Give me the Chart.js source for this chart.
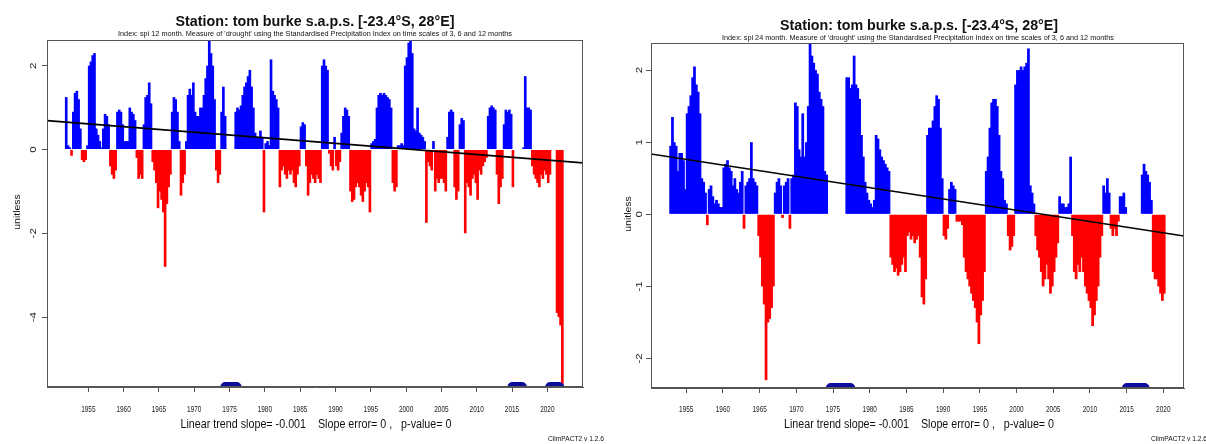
<!DOCTYPE html>
<html><head><meta charset="utf-8">
<script src="https://cdn.jsdelivr.net/npm/chart.js@4.4.1/dist/chart.umd.min.js"></script>
<style>
html,body{margin:0;padding:0;background:#fff;width:1206px;height:444px;overflow:hidden}
canvas{position:absolute;top:0}
#c1{left:0}
#c2{left:603px}
</style></head><body>
<canvas id="c1" width="610" height="444"></canvas>
<canvas id="c2" width="603" height="444"></canvas>
<script>
// ---------- DATA ----------
const tickYears = [1955,1960,1965,1970,1975,1980,1985,1990,1995,2000,2005,2010,2015,2020];
const spi12Ticks = [-4,-2,0,2];
const spi24Ticks = [-2,-1,0,1,2];

// SPI-12, quarterly values starting at 1951.75
const spi12Start = 1951.75;
const spi12 = [
  1.25,
  0.1, 0.05, -0.15, 0.9,      // 1952
  1.35, 1.4, 1.2, 0.5,        // 1953
  -0.25, -0.3, -0.25, 0.1,    // 1954
  2.0, 2.1, 2.25, 2.3,        // 1955
  0.5, 0.35, 0.2, 0.05,       // 1956
  0.5, 0.85, 0.8, 0.6,        // 1957
  -0.4, -0.6, -0.7, -0.5,     // 1958
  0.9, 0.95, 0.9, 0.6,        // 1959
  0.2, 0.2, 0.2, 1.0,         // 1960
  0.9, 0.85, 0.7, -0.2,       // 1961
  -0.7, -0.6, -0.7, 0.6,      // 1962
  1.25, 1.3, 1.6, 1.1,        // 1963
  -0.3, -0.5, -0.8, -1.4,     // 1964
  -1.0, -1.2, -1.5, -2.8,     // 1965
  -1.3, -0.9, -0.6, 0.9,      // 1966
  1.25, 1.2, 0.9, 0.2,        // 1967
  -1.1, -0.8, -0.6, 0.2,      // 1968
  1.3, 1.45, 1.3, 1.6,        // 1969
  0.9, 0.8, 0.8, 1.0,         // 1970
  1.0, 1.3, 1.7, 2.0,         // 1971
  2.6, 2.3, 2.0, 1.2,         // 1972
  -0.5, -0.8, -0.6, 0.9,      // 1973
  1.5, 0.8, null, null,       // 1974
  null, null, null, 0.9,      // 1975
  1.0, 0.95, 1.05, 1.3,       // 1976
  1.5, 1.6, 1.75, 1.9,        // 1977
  1.5, 1.0, 0.4, 0.3,         // 1978
  0.3, 0.45, 0.3, -1.5,       // 1979
  0.15, 0.2, 0.1, 2.15,       // 1980
  1.4, 1.3, 1.2, 1.0,         // 1981
  -0.9, -0.5, -0.4, -0.6,     // 1982
  -0.7, -0.5, -0.6, -0.5,     // 1983
  -0.8, -0.9, -0.6, -0.4,     // 1984
  0.55, 0.65, 0.6, -0.4,      // 1985
  -1.1, -0.8, -0.6, -0.7,     // 1986
  -0.8, -0.6, -0.7, -0.8,     // 1987
  2.0, 2.15, 2.0, 1.9,        // 1988
  -0.1, -0.4, -0.5, 0.3,      // 1989
  -0.4, -0.5, -0.3, 0.4,      // 1990
  0.8, 1.0, 0.95, 0.8,        // 1991
  -1.0, -1.25, -1.2, -0.9,    // 1992
  -0.8, -0.9, -1.1, -1.25,    // 1993
  -1.0, -0.8, -0.9, -1.5,     // 1994
  0.15, 0.2, 0.25, 1.0,       // 1995
  1.3, 1.35, 1.3, 1.35,       // 1996
  1.3, 1.25, 1.2, 1.0,        // 1997
  -0.8, -1.0, -0.9, 0.1,      // 1998
  0.1, 0.15, 0.1, 2.0,        // 1999
  2.2, 2.55, 2.6, 2.3,        // 2000
  0.5, 0.45, 1.0, 0.4,        // 2001
  0.35, 0.3, 0.2, -1.75,      // 2002
  -0.3, -0.4, -0.5, 0.2,      // 2003
  -1.0, -0.7, -0.8, -0.7,     // 2004
  -0.7, -0.8, -1.0, 0.3,      // 2005
  0.9, 0.95, 0.9, -0.9,       // 2006
  -1.2, -1.0, 0.6, 0.75,      // 2007
  0.7, -2.0, -0.8, -0.9,      // 2008
  -1.1, -0.7, -0.6, -0.8,     // 2009
  -1.2, -0.5, -0.6, -0.4,     // 2010
  -0.3, -0.2, 0.8, 1.0,       // 2011
  1.05, 1.0, 0.95, -0.6,      // 2012
  -1.3, -0.9, -0.7, 0.6,      // 2013
  0.95, 0.9, 0.95, 0.85,      // 2014
  -0.9, null, null, null,     // 2015
  null, null, 0.05, 1.75,     // 2016
  1.0, 1.0, 0.95, -0.4,       // 2017
  -0.6, -0.7, -0.8, -0.9,     // 2018
  -0.6, -0.7, -0.5, -0.6,     // 2019
  -0.8, -0.6, null, null,     // 2020
  null, -3.9, -4.0, -4.2,     // 2021
  -5.6                        // 2022
];

// SPI-24, quarterly values starting at 1952.75
const spi24Start = 1952.75;
const spi24 = [
  0.95,
  1.35, 1.0, 0.95, 0.6,       // 1953
  0.85, 0.85, 0.75, 0.35,     // 1954
  1.4, 1.5, 1.65, 1.9,        // 1955
  2.05, 1.8, 1.7, 1.4,        // 1956
  0.5, 0.45, 0.3, -0.15,      // 1957
  0.35, 0.4, 0.25, 0.15,      // 1958
  0.2, 0.15, 0.1, 0.1,        // 1959
  0.65, 0.7, 0.75, 0.65,      // 1960
  0.6, 0.4, 0.5, 0.35,        // 1961
  0.3, 0.45, 0.6, -0.2,       // 1962
  0.4, 0.45, 0.5, 1.0,        // 1963
  0.5, 0.45, 0.4, -0.3,       // 1964
  -0.6, -1.0, -1.25, -2.3,    // 1965
  -1.5, -1.45, -1.3, -1.0,    // 1966
  0.3, 0.45, 0.5, 0.4,        // 1967
  -0.05, 0.4, 0.45, 0.5,      // 1968
  -0.2, 0.5, 0.55, 1.55,      // 1969
  1.5, 0.9, 0.8, 1.4,         // 1970
  0.8, 1.0, 1.5, 2.4,         // 1971
  2.2, 2.1, 2.0, 1.95,        // 1972
  1.7, 1.6, 1.5, 0.6,         // 1973
  0.55, null, null, null,     // 1974
  null, null, null, null,     // 1975
  null, null, null, 1.9,      // 1976
  1.9, 1.75, 1.8, 2.2,        // 1977
  1.8, 1.75, 1.6, 1.1,        // 1978
  0.8, 0.45, 0.3, 0.2,        // 1979
  0.15, 0.1, 0.2, 1.1,        // 1980
  1.05, 0.9, 0.8, 0.75,       // 1981
  0.7, 0.65, 0.6, -0.6,       // 1982
  -0.7, -0.8, -0.75, -0.85,   // 1983
  -0.8, -0.7, -0.6, -0.8,     // 1984
  -0.3, -0.25, -0.35, -0.3,   // 1985
  -0.4, -0.35, -0.3, -0.6,    // 1986
  -1.15, -1.25, -0.9, 1.1,    // 1987
  1.2, 1.2, 1.3, 1.5,         // 1988
  1.65, 1.6, 1.2, 0.5,        // 1989
  -0.3, -0.35, -0.2, 0.35,    // 1990
  0.45, 0.4, 0.35, -0.1,      // 1991
  -0.1, -0.1, -0.15, -0.6,    // 1992
  -0.8, -0.9, -1.0, -1.1,     // 1993
  -1.2, -1.3, -1.5, -1.8,     // 1994
  -1.4, -1.2, -0.8, 0.6,      // 1995
  0.8, 1.2, 1.55, 1.6,        // 1996
  1.6, 1.5, 1.1, 0.6,         // 1997
  0.5, 0.2, 0.15, -0.3,       // 1998
  -0.5, -0.45, -0.3, 1.8,     // 1999
  2.0, 2.0, 2.05, 2.0,        // 2000
  2.05, 2.1, 2.3, 0.4,        // 2001
  0.3, 0.15, -0.3, -0.5,      // 2002
  -0.6, -0.8, -1.0, -0.9,     // 2003
  -0.7, -0.9, -1.1, -1.0,     // 2004
  -0.8, -0.6, -0.4, 0.25,     // 2005
  0.15, 0.15, 0.1, 0.1,       // 2006
  0.15, 0.8, -0.3, -0.8,      // 2007
  -0.9, -0.7, -0.8, -0.6,     // 2008
  -0.8, -1.0, -1.1, -1.2,     // 2009
  -1.3, -1.55, -1.4, -1.2,    // 2010
  -1.0, -0.6, -0.3, 0.4,      // 2011
  0.3, 0.5, 0.3, -0.2,        // 2012
  -0.3, -0.2, -0.3, -0.1,     // 2013
  0.25, 0.25, 0.3, 0.1,       // 2014
  null, null, null, null,     // 2015
  null, null, null, null,     // 2016
  0.55, 0.7, 0.6, 0.55,       // 2017
  0.45, 0.2, -0.8, -0.9,      // 2018
  -0.9, -1.0, -1.1, -1.2,     // 2019
  -1.1                        // 2020
];

const spi12TrendYears = [1949.15, 2025.05];
const spi12TrendValues = [0.69, -0.32];
const spi24TrendYears = [1950.2, 2022.82];
const spi24TrendValues = [0.836, -0.30];

const spi12GapStart = [1974.4, 2015.05, 2020.4];
const spi12GapEnd   = [1976.0, 2016.4, 2021.7];
const spi24GapStart = [1974.7, 2015.05];
const spi24GapEnd   = [1977.35, 2017.45];

const titleText = 'Station: tom burke s.a.p.s. [-23.4°S, 28°E]';
const sub12Text = "Index: spi 12 month. Measure of 'drought' using the Standardised Precipitation Index on time scales of 3, 6 and 12 months";
const sub24Text = "Index: spi 24 month. Measure of 'drought' using the Standardised Precipitation Index on time scales of 3, 6 and 12 months";
const footText = 'Linear trend slope= -0.001    Slope error= 0 ,   p-value= 0';
const versionText = 'ClimPACT2 v 1.2.6';
const yTitle = 'unitless';

// ---------- DRAWING ----------
const FONT = '"Liberation Sans", Arial, sans-serif';
function drawText(ctx, t) {
  ctx.save();
  ctx.translate(t.x, t.y);
  if (t.rot) ctx.rotate(t.rot);
  ctx.font = (t.bold ? 'bold ' : '') + t.size + 'px ' + FONT;
  ctx.textAlign = t.align || 'center';
  ctx.textBaseline = 'alphabetic';
  let sx = t.sx || 1, sy = t.sy || 1;
  if (t.w) sx = t.w / ctx.measureText(t.text).width;
  ctx.scale(sx, sy);
  ctx.fillStyle = t.color || '#111';
  ctx.fillText(t.text, 0, 0);
  ctx.restore();
}

const rPlugin = {
  id: 'rstyle',
  afterDraw(chart, args, o) {
    const ctx = chart.ctx, ca = chart.chartArea;
    ctx.save();
    ctx.strokeStyle = o.boxColor; ctx.lineWidth = 1;
    ctx.strokeRect(Math.round(ca.left) + 0.5, Math.round(ca.top) + 0.5,
                   Math.round(ca.right - ca.left) - 1, Math.round(ca.bottom - ca.top) - 1);
    const xs = chart.scales.x, ys = chart.scales.y;
    xs.ticks.forEach(t => drawText(ctx, {text: String(t.value), x: xs.getPixelForValue(t.value),
      y: o.xLabelY, size: o.xLabelSize, sx: o.xLabelSx, color: '#222'}));
    ys.ticks.forEach(t => drawText(ctx, {text: String(t.value), x: o.yLabelX,
      y: ys.getPixelForValue(t.value), size: o.yLabelSize, rot: -Math.PI / 2, sy: o.yLabelSy, color: '#222'}));
    o.texts.forEach(t => drawText(ctx, t));
    ctx.restore();
  }
};

function makeChart(id, cfg) {
  const bars = cfg.values.map((v, i) => ({x: cfg.start + i * 0.25 + 0.125, y: v}));
  const trend = cfg.trendYears.map((yr, i) => ({x: yr, y: cfg.trendValues[i]}));
  const gaps = [];
  cfg.gapStart.forEach((g, i) => {
    gaps.push({x: g, y: cfg.yMin}, {x: cfg.gapEnd[i], y: cfg.yMin}, {x: cfg.gapEnd[i], y: null});
  });
  return new Chart(document.getElementById(id), {
    data: {
      datasets: [
        {type: 'line', data: trend, borderColor: '#000', borderWidth: 1.6, pointRadius: 0, order: 0},
        {type: 'line', data: gaps, borderColor: '#0c0c9c', borderWidth: 10, borderCapStyle: 'round',
         pointRadius: 0, spanGaps: false, clip: 0, order: 1},
        {type: 'bar', data: bars, order: 2, borderWidth: 0, barPercentage: 1.5, categoryPercentage: 1.0,
         backgroundColor: c => (c.parsed && c.parsed.y >= 0) ? '#0000ff' : '#ff0000'}
      ]
    },
    options: {
      responsive: false, animation: false, devicePixelRatio: 1, events: [],
      layout: {padding: cfg.padding},
      plugins: {legend: {display: false}, tooltip: {enabled: false}, title: {display: false},
        rstyle: {boxColor: '#555', xLabelY: 411.5, xLabelSize: 9.5, xLabelSx: 0.68,
                 yLabelX: cfg.yLabelX, yLabelSize: 11.5, yLabelSy: 0.8, texts: cfg.texts}},
      scales: {
        x: {type: 'linear', min: cfg.xMin, max: cfg.xMax, offset: false,
            afterBuildTicks: s => { s.ticks = tickYears.map(v => ({value: v})); },
            afterFit: s => { s.height = cfg.xHeight; },
            ticks: {display: false},
            grid: {display: true, drawOnChartArea: false, drawTicks: true, tickLength: 5, tickColor: '#555', offset: false},
            border: {display: true, color: '#555', width: 1}},
        y: {type: 'linear', min: cfg.yMin, max: cfg.yMax,
            afterBuildTicks: s => { s.ticks = cfg.yTicks.map(v => ({value: v})); },
            afterFit: s => { s.width = cfg.yWidth; },
            ticks: {display: false},
            grid: {display: true, drawOnChartArea: false, drawTicks: true, tickLength: 5, tickColor: '#555'},
            border: {display: true, color: '#555', width: 1}}
      }
    },
    plugins: [rPlugin]
  });
}

// left panel: plot box 47..583 x 40..387
makeChart('c1', {
  values: spi12, start: spi12Start, trendYears: spi12TrendYears, trendValues: spi12TrendValues,
  gapStart: spi12GapStart, gapEnd: spi12GapEnd, yTicks: spi12Ticks,
  xMin: 1949.15, xMax: 2025.05, yMin: -5.668, yMax: 2.613,
  padding: {left: 0, top: 40, right: 27, bottom: 0}, xHeight: 57, yWidth: 47, yLabelX: 36,
  texts: [
    {text: titleText, x: 315, y: 25.5, size: 15.5, bold: true, w: 279},
    {text: sub12Text, x: 315, y: 36, size: 7, w: 394},
    {text: yTitle, x: 20, y: 212, size: 10.5, rot: -Math.PI / 2, sy: 0.85},
    {text: footText, x: 316, y: 428, size: 12, w: 271},
    {text: versionText, x: 548, y: 441, size: 7, align: 'left', w: 56}
  ]
});

// right panel (canvas offset 603): plot box 651..1184 x 43..388
makeChart('c2', {
  values: spi24, start: spi24Start, trendYears: spi24TrendYears, trendValues: spi24TrendValues,
  gapStart: spi24GapStart, gapEnd: spi24GapEnd, yTicks: spi24Ticks,
  xMin: 1950.2, xMax: 2022.82, yMin: -2.409, yMax: 2.376,
  padding: {left: 0, top: 43, right: 22, bottom: 0}, xHeight: 56, yWidth: 48, yLabelX: 39,
  texts: [
    {text: titleText, x: 316, y: 29.5, size: 15.5, bold: true, w: 278},
    {text: sub24Text, x: 315, y: 40, size: 7, w: 392},
    {text: yTitle, x: 28, y: 214, size: 10.5, rot: -Math.PI / 2, sy: 0.85},
    {text: footText, x: 316, y: 428, size: 12, w: 270},
    {text: versionText, x: 548, y: 441, size: 7, align: 'left', w: 56}
  ]
});
</script>
</body></html>
